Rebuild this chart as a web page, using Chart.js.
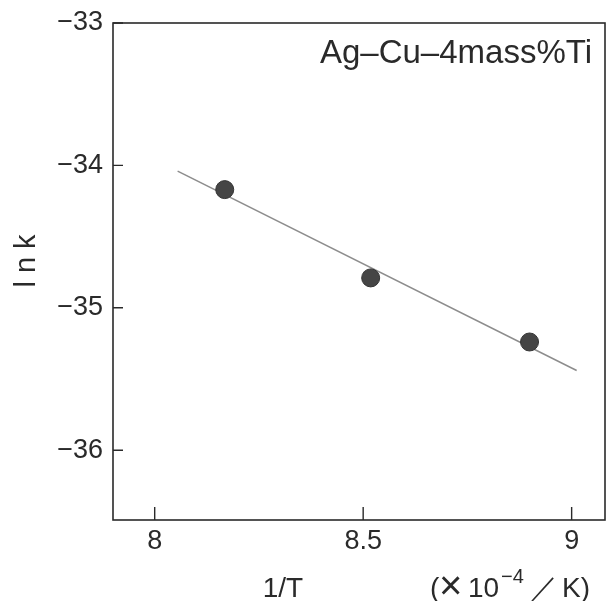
<!DOCTYPE html>
<html>
<head>
<meta charset="utf-8">
<script src="https://cdn.jsdelivr.net/npm/chart.js@4.4.1/dist/chart.umd.min.js"></script>
<style>
  html, body { margin: 0; padding: 0; background: #fff; }
  #wrap { width: 607px; height: 601px; position: relative; }
</style>
</head>
<body>
<div id="wrap"><canvas id="c"></canvas></div>
<script>
// ln k vs 1/T, Ag-Cu-4mass%Ti — three measured points plus fitted line.
const invT = [8.168, 8.518, 8.899];
const lnK = [-34.17, -34.79, -35.24];
const fitX = [8.055, 9.012];
const fitY = [-34.04, -35.44];
const xTicks = [8, 8.5, 9];
const yTicks = [-36, -35, -34, -33];

const FONT = '"Liberation Sans", Arial, sans-serif';
const INK = '#2a2a2a';
const minus = (v) => String(v).replace('-', '\u2212');

// frame, inward tick marks and all the loose labels
const decor = {
  id: 'decor',
  afterDraw(chart) {
    const { ctx, chartArea: a, scales: { x, y } } = chart;
    ctx.save();
    ctx.strokeStyle = INK;
    ctx.lineWidth = 1.6;
    ctx.strokeRect(a.left, a.top, a.right - a.left, a.bottom - a.top);

    ctx.lineWidth = 1.4;
    ctx.beginPath();
    xTicks.forEach((v) => {
      const px = x.getPixelForValue(v);
      ctx.moveTo(px, a.bottom); ctx.lineTo(px, a.bottom - 13);
    });
    yTicks.forEach((v) => {
      const py = y.getPixelForValue(v);
      ctx.moveTo(a.left, py); ctx.lineTo(a.left + 10, py);
    });
    ctx.stroke();

    ctx.fillStyle = INK;
    ctx.textBaseline = 'alphabetic';

    ctx.font = `33px ${FONT}`;
    ctx.textAlign = 'right';
    ctx.fillText('Ag\u2013Cu\u20134mass%Ti', 592, 63);

    ctx.font = `28px ${FONT}`;
    ctx.textAlign = 'center';
    ctx.fillText('1/T', 283, 597);

    ctx.textAlign = 'left';
    ctx.fillText('(', 430, 597);
    ctx.font = `40px ${FONT}`;
    ctx.fillText('\u00d7', 439, 599);
    ctx.font = `28px ${FONT}`;
    ctx.fillText('10', 468, 597);
    ctx.font = `20px ${FONT}`;
    ctx.fillText('\u22124', 501, 583);
    ctx.font = `28px ${FONT}`;
    ctx.fillText('\uff0f', 530, 597);
    ctx.fillText('K)', 562, 597);

    ctx.save();
    ctx.translate(35, 261);
    ctx.rotate(-Math.PI / 2);
    ctx.textAlign = 'center';
    ctx.font = `29px ${FONT}`;
    ctx.fillText('l n k', 0, 0);
    ctx.restore();

    ctx.restore();
  },
};

new Chart(document.getElementById('c'), {
  type: 'scatter',
  data: {
    datasets: [
      {
        label: 'data',
        data: invT.map((v, i) => ({ x: v, y: lnK[i] })),
        backgroundColor: '#454545',
        borderColor: '#333',
        borderWidth: 1,
        pointRadius: 9,
        order: 1,
      },
      {
        label: 'fit',
        type: 'line',
        data: fitX.map((v, i) => ({ x: v, y: fitY[i] })),
        borderColor: '#8c8c8c',
        borderWidth: 1.5,
        pointRadius: 0,
        fill: false,
        order: 2,
      },
    ],
  },
  options: {
    responsive: true, maintainAspectRatio: false, animation: false,
    layout: { autoPadding: false, padding: { top: 23, right: 2, left: 0, bottom: 0 } },
    plugins: { legend: { display: false }, tooltip: { enabled: false } },
    scales: {
      x: {
        type: 'linear', min: 7.9, max: 9.08,
        afterBuildTicks: (s) => { s.ticks = xTicks.map((v) => ({ value: v })); },
        afterFit: (s) => { s.height = 81; s.paddingLeft = 0; s.paddingRight = 0; },
        grid: { display: false, drawTicks: false },
        border: { display: false },
        ticks: { color: INK, padding: 5, font: { family: FONT, size: 27 }, callback: (v) => String(v) },
      },
      y: {
        type: 'linear', min: -36.49, max: -33,
        afterBuildTicks: (s) => { s.ticks = yTicks.map((v) => ({ value: v })); },
        afterFit: (s) => { s.width = 113; s.paddingTop = 0; s.paddingBottom = 0; },
        grid: { display: false, drawTicks: false },
        border: { display: false },
        ticks: { color: INK, padding: 10, font: { family: FONT, size: 27 }, callback: minus },
      },
    },
  },
  plugins: [decor],
});
</script>
</body>
</html>
